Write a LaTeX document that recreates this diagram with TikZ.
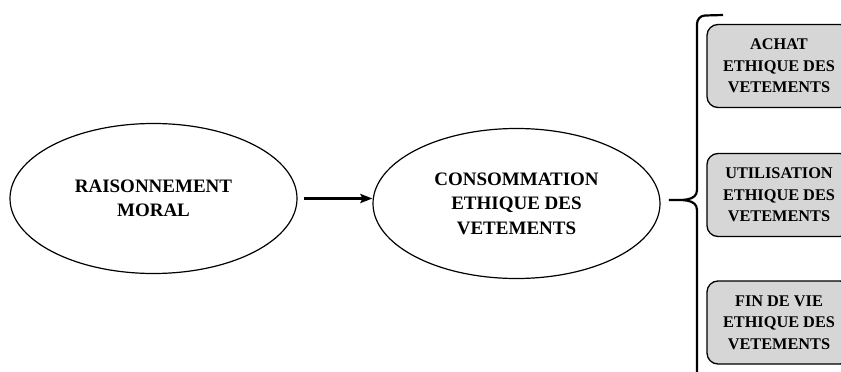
\documentclass[tikz,border=0pt]{standalone}
\usepackage{fontspec}
\setmainfont{Liberation Serif}
\usetikzlibrary{shapes.geometric,arrows.meta}

\begin{document}
\begin{tikzpicture}[
    x=1pt, y=-1pt,
    oval/.style={ellipse, draw, line width=1.2pt, minimum width=287pt, minimum height=150pt, align=center, font=\fontsize{19}{24.5}\selectfont\bfseries},
    stage/.style={rectangle, rounded corners=11pt, draw, line width=1.3pt, fill=black!16, minimum width=144pt, minimum height=83pt, align=center, font=\fontsize{16.3}{21.5}\selectfont\bfseries},
    arrow/.style={-{Stealth[length=12pt,width=9pt,inset=2pt]}, line width=2.4pt}
]
    \useasboundingbox (0,0) rectangle (841,372);
    \clip (0,0) rectangle (841,372);

    % Left ellipse
    \node[oval] (raison) at (153.5,198.5) {RAISONNEMENT\\MORAL};

    % Middle ellipse
    \node[oval] (conso) at (516.5,203.5) {CONSOMMATION\\ETHIQUE DES\\VETEMENTS};

    % Stages
    \node[stage] (achat) at (779,66) {ACHAT\\ETHIQUE DES\\VETEMENTS};
    \node[stage] (usage) at (779,195) {UTILISATION\\ETHIQUE DES\\VETEMENTS};
    \node[stage] (finvie) at (779,322.5) {FIN DE VIE\\ETHIQUE DES\\VETEMENTS};

    % Arrow
    \draw[arrow, shorten <=6pt] (raison.east) -- (raison.east -| conso.west);

    % Brace
    \draw[line width=2.2pt] (723,15) -- (705,15.5) to[out=180,in=90] (697,24)
        -- (697,190) to[out=-90,in=0] (669,200) to[out=0,in=90] (697,210)
        -- (697,380);
\end{tikzpicture}
\end{document}
